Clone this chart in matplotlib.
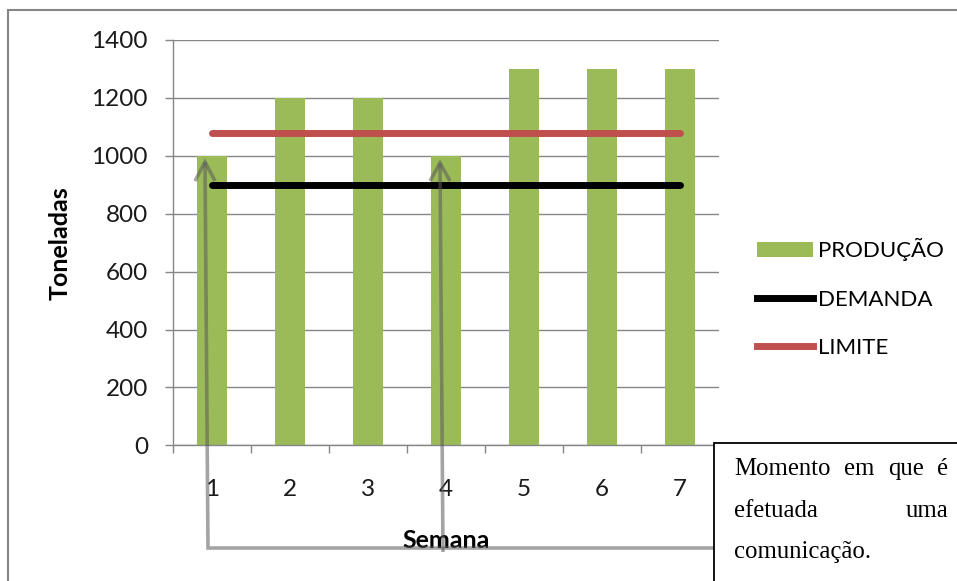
import matplotlib
matplotlib.use("Agg")
import matplotlib.pyplot as plt
from matplotlib.lines import Line2D
from matplotlib.patches import Patch, Rectangle

# Weekly production against demand and the capacity limit (tonnes)
semanas = ["1", "2", "3", "4", "5", "6", "7"]
producao = [1000, 1200, 1200, 1000, 1300, 1300, 1300]
demanda = [900, 900, 900, 900, 900, 900, 900]
limite = [1080, 1080, 1080, 1080, 1080, 1080, 1080]
y_ticks = [0, 200, 400, 600, 800, 1000, 1200, 1400]

VERDE = "#9BBB59"
VERMELHO = "#C0504D"
PRETO = "#000000"
CINZA = "#868686"

W, H = 957, 581
plt.rcParams["font.family"] = ["Lato", "DejaVu Sans"]
fig = plt.figure(figsize=(W / 100, H / 100), dpi=100)


def fx(px):
    return px / W


def fy(py):
    return 1 - py / H


ax = fig.add_axes([fx(173), fy(445.3), fx(719) - fx(173), fy(40) - fy(445.3)])

x = list(range(1, len(semanas) + 1))
ax.bar(x, producao, width=0.39, color=VERDE, zorder=2, label="PRODUÇÃO")
ax.plot(x, demanda, color=PRETO, lw=5, solid_capstyle="round", zorder=3, label="DEMANDA")
ax.plot(x, limite, color=VERMELHO, lw=5, solid_capstyle="round", zorder=3, label="LIMITE")

ax.set_xlim(0.5, len(semanas) + 0.5)
ax.set_ylim(0, 1400)
ax.set_yticks(y_ticks)
ax.set_yticklabels([str(v) for v in y_ticks])
ax.set_xticks(x)
ax.set_xticklabels(semanas)
ax.set_xticks([i + 0.5 for i in range(0, len(semanas) + 1)], minor=True)

ax.grid(axis="y", color=CINZA, lw=1, zorder=0)
ax.set_axisbelow(True)
for s in ("top", "right"):
    ax.spines[s].set_visible(False)
for s in ("left", "bottom"):
    ax.spines[s].set_color(CINZA)
    ax.spines[s].set_linewidth(1)

ax.tick_params(axis="y", which="major", length=6, color=CINZA, width=1,
               labelsize=17.5, labelcolor="#1a1a1a", pad=12)
ax.tick_params(axis="x", which="major", length=0, labelsize=17.5,
               labelcolor="#1a1a1a", pad=24)
ax.tick_params(axis="x", which="minor", length=6, color=CINZA, width=1)

ax.set_xlabel("Semana", fontsize=18, fontweight="bold", va="center")
ax.xaxis.set_label_coords(0.5, (445.3 - 541) / 405.3)
ax.set_ylabel("Toneladas", fontsize=18, fontweight="bold", va="center")
ax.yaxis.set_label_coords((60 - 173) / 546, 0.5)

handles = [
    Patch(facecolor=VERDE, edgecolor="none"),
    Line2D([], [], color=PRETO, lw=5),
    Line2D([], [], color=VERMELHO, lw=5),
]
ax.legend(handles, ["PRODUÇÃO", "DEMANDA", "LIMITE"], loc="center left",
          bbox_to_anchor=(fx(757), fy(298)), bbox_transform=fig.transFigure,
          frameon=False, fontsize=16, handlelength=2.5, handletextpad=0.25,
          labelspacing=1.27, borderaxespad=0, borderpad=0)

# outer chart frame
fig.add_artist(Rectangle((fx(8), fy(700)), fx(1100), fy(10) - fy(700),
                         transform=fig.transFigure, fill=False,
                         edgecolor=CINZA, lw=1.5, zorder=0))

# callout arrows pointing to weeks 1 and 4
seta = dict(color="#5a5a5a", alpha=0.55, lw=2.6, solid_capstyle="butt",
            solid_joinstyle="miter", transform=fig.transFigure, zorder=5)


def caminho(pts):
    fig.add_artist(Line2D([fx(p[0]) for p in pts], [fy(p[1]) for p in pts], **seta))


caminho([(714, 548), (208, 548), (205, 162)])
caminho([(195, 181), (205, 162), (215, 181)])
caminho([(443, 552), (440, 163)])
caminho([(430, 181), (440, 163), (450, 181)])

# text box
fig.add_artist(Rectangle((fx(714), fy(700)), fx(400), fy(443) - fy(700),
                         transform=fig.transFigure, facecolor="white",
                         edgecolor="black", lw=1.3, zorder=6))

serif = dict(family=["Liberation Serif", "DejaVu Serif"], size=17.8,
             color="black", va="baseline", zorder=7, transform=fig.transFigure)
renderer = fig.canvas.get_renderer()


def linha_justificada(words, y, x0, x1):
    arts = [fig.text(0, fy(y), w, ha="left", **serif) for w in words]
    widths = [a.get_window_extent(renderer).width for a in arts]
    gap = (x1 - x0 - sum(widths)) / max(len(words) - 1, 1)
    pos = x0
    for a, w in zip(arts, widths):
        a.set_x(fx(pos))
        pos += w + gap


linha_justificada(["Momento", "em", "que", "é"], 475, 734, 948)
linha_justificada(["efetuada", "uma"], 517, 734, 948)
fig.text(fx(734), fy(558), "comunicação.", ha="left", **serif)

fig.savefig("out.png", dpi=100)
